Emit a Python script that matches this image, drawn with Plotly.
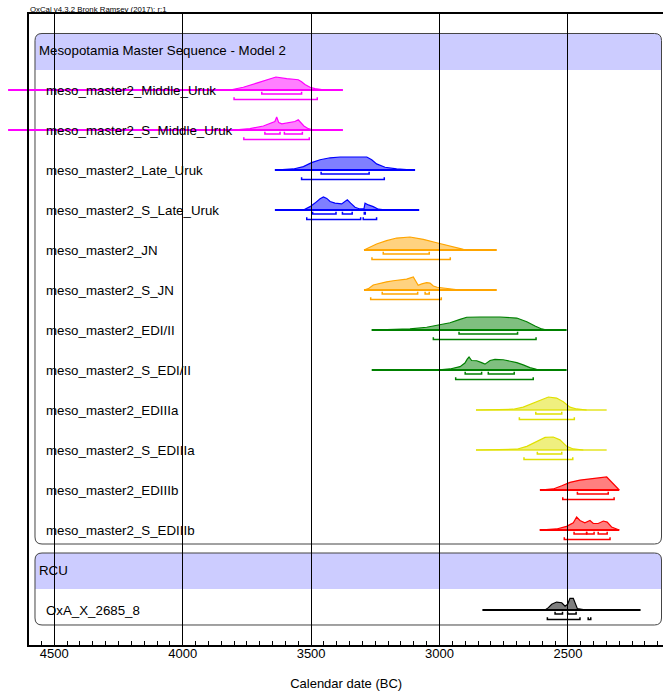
import plotly.graph_objects as go

# ---------------------------------------------------------------------------
# Data: posterior densities (calendar years BC, relative probability),
# prior extents and highest-posterior-density ranges (68.2% and 95.4%)
# ---------------------------------------------------------------------------
group_titles = ["Mesopotamia Master Sequence - Model 2", "RCU"]

middle_uruk_bc = [3816, 3764, 3712, 3673, 3637, 3595, 3550, 3537, 3524, 3504, 3485, 3452, 3426]
middle_uruk_p = [0, .21, .53, .79, 1, .87, .79, .63, .42, .21, .10, .02, 0]

s_middle_uruk_bc = [3803, 3738, 3686, 3653, 3641, 3634, 3626, 3614, 3595, 3576, 3563, 3550, 3540, 3528, 3511, 3491]
s_middle_uruk_p = [0, .10, .31, .53, .65, 1, .57, .47, .53, .61, .65, .79, .57, .31, .10, 0]

late_uruk_bc = [3641, 3569, 3530, 3498, 3465, 3426, 3387, 3336, 3283, 3264, 3245, 3212, 3167, 3102]
late_uruk_p = [0, .08, .26, .57, .79, .94, 1, 1, 1, .79, .47, .21, .08, 0]

s_late_uruk_bc = [3530, 3504, 3485, 3465, 3452, 3439, 3426, 3407, 3381, 3359, 3346, 3329, 3310, 3294, 3290,
                  3277, 3258, 3245, 3238, 3206]
s_late_uruk_p = [0, .26, .53, .87, 1, .89, .65, .53, .47, .79, .53, .21, .08, .10, .53, .39, .26, .10, .06, 0]

jn_bc = [3294, 3271, 3245, 3206, 3167, 3115, 3063, 3011, 2959, 2907, 2881]
jn_p = [0, .21, .46, .72, .92, 1, .82, .56, .31, .05, 0]

s_jn_bc = [3294, 3277, 3258, 3232, 3206, 3180, 3154, 3128, 3102, 3089, 3083, 3069, 3050, 3037, 3024, 3009,
           2991, 2959, 2920]
s_jn_p = [0, .10, .39, .53, .63, .71, .79, .84, 1, .53, .37, .47, .57, .53, .31, .21, .16, .08, 0]

edi_ii_bc = [3264, 3115, 3050, 2998, 2959, 2920, 2894, 2842, 2764, 2699, 2660, 2628, 2602, 2583]
edi_ii_p = [0, .08, .21, .38, .56, .82, .98, 1, 1, .92, .64, .31, .08, 0]

s_edi_ii_bc = [3011, 2959, 2920, 2901, 2892, 2885, 2875, 2855, 2836, 2823, 2803, 2784, 2752, 2719, 2699,
               2674, 2648, 2622, 2602]
s_edi_ii_p = [0, .08, .26, .53, .84, 1, .73, .71, .57, .45, .73, .81, .79, .65, .57, .39, .18, .06, 0]

ediiia_bc = [2858, 2713, 2674, 2635, 2602, 2576, 2544, 2518, 2492, 2466, 2427]
ediiia_p = [0, .06, .22, .54, .84, 1, .92, .63, .22, .08, 0]

s_ediiia_bc = [2858, 2699, 2660, 2621, 2589, 2557, 2531, 2505, 2479, 2440]
s_ediiia_p = [0, .06, .28, .64, .97, 1, .78, .28, .08, 0]

ediiib_bc = [2609, 2557, 2524, 2492, 2453, 2401, 2349, 2300]
ediiib_p = [0, .08, .33, .59, .76, .87, 1, 0]

s_ediiib_bc = [2611, 2544, 2505, 2479, 2466, 2453, 2434, 2414, 2401, 2382, 2362, 2347, 2330, 2300]
s_ediiib_p = [0, .08, .28, .56, 1, .73, .56, .73, .5, .5, .69, .61, .23, 0]

oxa_bc = [2589, 2576, 2563, 2544, 2524, 2511, 2501, 2492, 2479, 2470, 2463, 2440, 2380, 2340]
oxa_p = [0, .18, .44, .61, .56, .29, .44, .90, .90, .44, .10, .03, .02, 0]

# prior (unmodelled) extents, years BC
prior_spans = {
    "meso_master2_Middle_Uruk": (4680, 3376),
    "meso_master2_S_Middle_Uruk": (4680, 3376),
    "meso_master2_Late_Uruk": (3641, 3095),
    "meso_master2_S_Late_Uruk": (3641, 3079),
    "meso_master2_JN": (3294, 2777),
    "meso_master2_S_JN": (3294, 2777),
    "meso_master2_EDI/II": (3264, 2505),
    "meso_master2_S_EDI/II": (3264, 2505),
    "meso_master2_EDIIIa": (2858, 2349),
    "meso_master2_S_EDIIIa": (2858, 2349),
    "meso_master2_EDIIIb": (2609, 2300),
    "meso_master2_S_EDIIIb": (2609, 2300),
    "OxA_X_2685_8": (2833, 2217),
}

# highest posterior density ranges
hpd68 = {
    "meso_master2_Middle_Uruk": [(3692, 3537)],
    "meso_master2_S_Middle_Uruk": [(3680, 3621), (3604, 3534)],
    "meso_master2_Late_Uruk": [(3461, 3274)],
    "meso_master2_S_Late_Uruk": [(3494, 3403), (3378, 3340), (3293, 3289)],
    "meso_master2_JN": [(3219, 3040)],
    "meso_master2_S_JN": [(3223, 3085), (3056, 3040)],
    "meso_master2_EDI/II": [(2924, 2696)],
    "meso_master2_S_EDI/II": [(2900, 2836), (2810, 2709)],
    "meso_master2_EDIIIa": [(2625, 2524)],
    "meso_master2_S_EDIIIa": [(2619, 2524)],
    "meso_master2_EDIIIb": [(2463, 2343)],
    "meso_master2_S_EDIIIb": [(2476, 2427), (2427, 2398), (2382, 2347)],
    "OxA_X_2685_8": [(2550, 2521), (2501, 2468)],
}
hpd95 = {
    "meso_master2_Middle_Uruk": [(3800, 3476)],
    "meso_master2_S_Middle_Uruk": [(3762, 3507)],
    "meso_master2_Late_Uruk": [(3537, 3215)],
    "meso_master2_S_Late_Uruk": [(3517, 3307), (3297, 3245)],
    "meso_master2_JN": [(3263, 2958)],
    "meso_master2_S_JN": [(3268, 2993)],
    "meso_master2_EDI/II": [(3024, 2624)],
    "meso_master2_S_EDI/II": [(2937, 2635)],
    "meso_master2_EDIIIa": [(2689, 2475)],
    "meso_master2_S_EDIIIa": [(2671, 2481)],
    "meso_master2_EDIIIb": [(2520, 2320)],
    "meso_master2_S_EDIIIb": [(2514, 2336)],
    "OxA_X_2685_8": [(2580, 2453), (2421, 2411)],
}

# line colour, fill colour, prior-line colour
palette = {
    "magenta": ("#FF00FF", "rgba(255,0,255,0.5)", "#FF00FF"),
    "blue": ("#0000FF", "rgba(0,0,255,0.5)", "#0000FF"),
    "orange": ("#FFA500", "rgba(255,165,0,0.5)", "#FFA500"),
    "green": ("#008000", "rgba(0,128,0,0.5)", "#008000"),
    "yellow": ("#E0E000", "rgba(224,224,0,0.5)", "rgba(224,224,0,0.65)"),
    "red": ("#FF0000", "rgba(255,0,0,0.5)", "#FF0000"),
    "black": ("#000000", "rgba(0,0,0,0.5)", "#000000"),
}

# rows: (row index, label, years, probabilities, colour)
rows = [
    (1, "meso_master2_Middle_Uruk", middle_uruk_bc, middle_uruk_p, "magenta"),
    (2, "meso_master2_S_Middle_Uruk", s_middle_uruk_bc, s_middle_uruk_p, "magenta"),
    (3, "meso_master2_Late_Uruk", late_uruk_bc, late_uruk_p, "blue"),
    (4, "meso_master2_S_Late_Uruk", s_late_uruk_bc, s_late_uruk_p, "blue"),
    (5, "meso_master2_JN", jn_bc, jn_p, "orange"),
    (6, "meso_master2_S_JN", s_jn_bc, s_jn_p, "orange"),
    (7, "meso_master2_EDI/II", edi_ii_bc, edi_ii_p, "green"),
    (8, "meso_master2_S_EDI/II", s_edi_ii_bc, s_edi_ii_p, "green"),
    (9, "meso_master2_EDIIIa", ediiia_bc, ediiia_p, "yellow"),
    (10, "meso_master2_S_EDIIIa", s_ediiia_bc, s_ediiia_p, "yellow"),
    (11, "meso_master2_EDIIIb", ediiib_bc, ediiib_p, "red"),
    (12, "meso_master2_S_EDIIIb", s_ediiib_bc, s_ediiib_p, "red"),
    (14, "OxA_X_2685_8", oxa_bc, oxa_p, "black"),
]
group_rows = [0, 13]

# ---------------------------------------------------------------------------
# Geometry
# ---------------------------------------------------------------------------
W, H = 663, 691
MT, MB = 14, 46
PLOT_TOP, PLOT_BOT = MT, H - MB          # pixel rows of the plotting area
ROW_PX, ROW0_PX = 40, 50                 # row pitch and centre of row 0
FRAME_LEFT = 29.3
PX_PER_YEAR = 0.2568
YEAR_AT_4500_PX = 54.3

year_at_px = lambda px: 4500 + (YEAR_AT_4500_PX - px) / PX_PER_YEAR
y_range = [(PLOT_BOT - ROW0_PX) / ROW_PX, (PLOT_TOP - ROW0_PX) / ROW_PX]

PEAK = 13.0 / ROW_PX       # height of a density peak in row units
OFF68, OFF95 = 4.0 / ROW_PX, 9.5 / ROW_PX
TICK = 2.2 / ROW_PX
FONT = "Liberation Sans, Arial, Helvetica, sans-serif"
LABEL_SIZE = 13.3

fig = go.Figure()


def brackets(spans, y):
    xs, ys = [], []
    for a, b in spans:
        xs += [a, a, b, b, None]
        ys += [y - TICK, y, y, y - TICK, None]
    return xs, ys


for r, name, bc, p, col in rows:
    line_c, fill_c, prior_c = palette[col]
    x0, x1 = prior_spans[name]
    fig.add_trace(go.Scatter(
        x=[x0, x1], y=[r, r], mode="lines", xaxis="x", yaxis="y",
        line=dict(color=prior_c, width=1.8), hoverinfo="skip", showlegend=False))
    fig.add_trace(go.Scatter(
        x=bc, y=[r - v * PEAK for v in p], mode="lines", fill="toself",
        fillcolor=fill_c, xaxis="x", yaxis="y",
        line=dict(color=line_c, width=1.2), hoverinfo="skip", showlegend=False))
    for spans, off in ((hpd68[name], OFF68), (hpd95[name], OFF95)):
        bx, by = brackets(spans, r + off)
        fig.add_trace(go.Scatter(
            x=bx, y=by, mode="lines", xaxis="x", yaxis="y",
            line=dict(color=line_c, width=1.5), hoverinfo="skip", showlegend=False))

# an empty trace so the framed calendar axis (x2) gets its own subplot
fig.add_trace(go.Scatter(x=[None], y=[None], mode="lines", xaxis="x2", yaxis="y",
                         hoverinfo="skip", showlegend=False))


# ---------------------------------------------------------------------------
# Group boxes (rounded) with lavender title bands, drawn in paper space
# ---------------------------------------------------------------------------
def to_paper(px, py):
    return px / W, (PLOT_BOT - py) / (PLOT_BOT - PLOT_TOP)


def rounded_path(x0, y0, x1, y1, rad, round_bottom=True):
    def P(px, py):
        u, v = to_paper(px, py)
        return f"{u:.5f},{v:.5f}"
    d = f"M {P(x0 + rad, y0)} L {P(x1 - rad, y0)} Q {P(x1, y0)} {P(x1, y0 + rad)} "
    if round_bottom:
        d += (f"L {P(x1, y1 - rad)} Q {P(x1, y1)} {P(x1 - rad, y1)} "
              f"L {P(x0 + rad, y1)} Q {P(x0, y1)} {P(x0, y1 - rad)} ")
    else:
        d += f"L {P(x1, y1)} L {P(x0, y1)} "
    d += f"L {P(x0, y0 + rad)} Q {P(x0, y0)} {P(x0 + rad, y0)} Z"
    return d


BOX_L, BOX_R, RAD = 35, 661.5, 7
boxes = [  # (top, band bottom, box bottom) in pixels
    (33.5, 70, 544),
    (553, 589, 625),
]
shapes = []
for top, band_bot, bot in boxes:
    shapes.append(dict(type="path", xref="paper", yref="paper", layer="below",
                       path=rounded_path(BOX_L, top, BOX_R, band_bot, RAD, round_bottom=False),
                       fillcolor="#CCCCFF", line=dict(width=0)))
    shapes.append(dict(type="path", xref="paper", yref="paper", layer="below",
                       path=rounded_path(BOX_L, top, BOX_R, bot, RAD),
                       fillcolor="rgba(0,0,0,0)", line=dict(color="#444444", width=1)))

annotations = []
for r, title in zip(group_rows, group_titles):
    annotations.append(dict(xref="paper", yref="y", x=37 / W, y=r, text=title,
                            showarrow=False, xanchor="left", yanchor="middle",
                            font=dict(family=FONT, size=LABEL_SIZE, color="#000000")))
for r, name, *_ in rows:
    annotations.append(dict(xref="paper", yref="y", x=44 / W, y=r, text=name,
                            showarrow=False, xanchor="left", yanchor="middle",
                            font=dict(family=FONT, size=LABEL_SIZE, color="#000000")))
annotations.append(dict(xref="paper", yref="paper", x=FRAME_LEFT / W - 0.002, y=1,
                        text="OxCal v4.3.2 Bronk Ramsey (2017); r:1", showarrow=False,
                        xanchor="left", yanchor="bottom", yshift=-2,
                        font=dict(family=FONT, size=7.8, color="#000000")))

fig.update_layout(
    width=W, height=H,
    margin=dict(l=0, r=0, t=MT, b=MB, pad=0),
    paper_bgcolor="white", plot_bgcolor="rgba(0,0,0,0)",
    shapes=shapes, annotations=annotations,
    showlegend=False, hovermode=False,
    font=dict(family=FONT, size=13, color="#000000"),
    # data axis spanning the full width (so long priors can run past the frame)
    xaxis=dict(domain=[0, 1], range=[year_at_px(0), year_at_px(W)], visible=False,
               anchor="y", fixedrange=True),
    # framed calendar axis with ticks and grid
    xaxis2=dict(domain=[FRAME_LEFT / W, 1], range=[year_at_px(FRAME_LEFT), year_at_px(W)],
                anchor="y", showline=True, linecolor="#000000", linewidth=2, mirror=True,
                ticks="inside", tickcolor="#000000", ticklen=4, tickwidth=1,
                tick0=0, dtick=500, showgrid=True, gridcolor="#000000", gridwidth=1,
                zeroline=False, ticklabelstandoff=-5,
                minor=dict(dtick=50, ticks="inside", ticklen=4, tickcolor="#000000",
                           tickwidth=1, showgrid=False),
                tickfont=dict(family=FONT, size=13, color="#000000"),
                title=dict(text="Calendar date (BC)", standoff=20,
                           font=dict(family=FONT, size=13, color="#000000")),
                fixedrange=True),
    yaxis=dict(domain=[0, 1], range=y_range, anchor="x2", showline=True,
               linecolor="#000000", linewidth=1.5, showticklabels=False, ticks="",
               showgrid=False, zeroline=False, fixedrange=True),
)

fig.write_html("out.html")
